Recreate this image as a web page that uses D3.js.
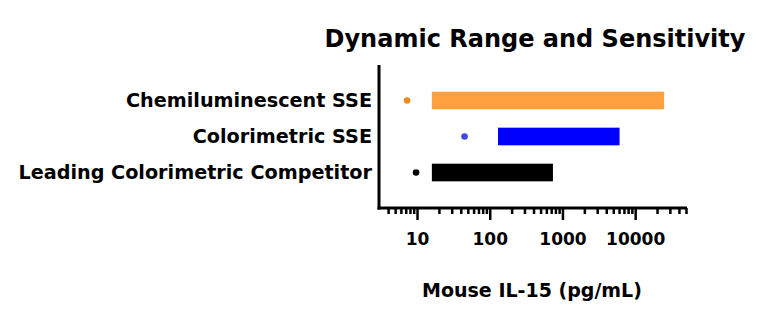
<!DOCTYPE html>
<html>
<head>
<meta charset="utf-8">
<script src="https://cdn.jsdelivr.net/npm/d3@7"></script>
<style>
  body { margin: 0; background: #fff; }
  text { font-family: "DejaVu Sans", sans-serif; font-weight: bold; fill: #000; }
</style>
</head>
<body>
<script>
// data
const categories = ['Chemiluminescent SSE', 'Colorimetric SSE', 'Leading Colorimetric Competitor']
const sensitivity = [7.3, 45, 9.7]
const rangeLow = [16, 130, 16]
const rangeHigh = [25000, 6100, 740]
const barColors = ['#ffa040', '#0000ff', '#000000']
const dotColors = ['#f28a1e', '#4444ee', '#000000']
const majorTicks = [10, 100, 1000, 10000]

const w = 768
const h = 322

const svg = d3.select('body')
    .append('svg')
    .attr('width', w)
    .attr('height', h)

// scales
const x = d3.scaleLog()
    .domain([3, 50000])
    .range([379, 686])

const y = d3.scaleBand()
    .domain(categories)
    .range([65, 208])
    .paddingInner(0.51)
    .paddingOuter(0.74)

// minor ticks: 2..9 of every decade inside the domain
const minorTicks = x.ticks().filter(d => majorTicks.indexOf(d) < 0 && d >= 4)

const baseY = 208

// bars for the dynamic range
svg.selectAll('rect.range')
    .data(categories)
    .enter()
    .append('rect')
    .attr('class', 'range')
    .attr('x', (d, i) => x(rangeLow[i]))
    .attr('width', (d, i) => x(rangeHigh[i]) - x(rangeLow[i]))
    .attr('y', d => y(d))
    .attr('height', y.bandwidth())
    .style('fill', (d, i) => barColors[i])

// dots for the sensitivity
svg.selectAll('circle.sens')
    .data(categories)
    .enter()
    .append('circle')
    .attr('class', 'sens')
    .attr('cx', (d, i) => x(sensitivity[i]))
    .attr('cy', d => y(d) + y.bandwidth() / 2)
    .attr('r', 3.3)
    .style('fill', (d, i) => dotColors[i])

// x axis: minor ticks first, then major ticks with labels
const xAxisMinor = svg.append('g')
    .attr('transform', `translate(0,${baseY})`)
    .call(d3.axisBottom(x).tickValues(minorTicks).tickSize(6).tickFormat(''))
const xAxis = svg.append('g')
    .attr('transform', `translate(0,${baseY})`)
    .call(d3.axisBottom(x).tickValues(majorTicks).tickSize(12).tickPadding(13).tickFormat(d3.format('d')))

;[xAxisMinor, xAxis].forEach(g => {
    g.select('.domain').remove()
    g.selectAll('line').style('stroke', '#000').style('stroke-width', 2.5)
})
xAxis.selectAll('text').style('font-size', '17px')

svg.append('line')
    .attr('x1', 377.5).attr('x2', 687)
    .attr('y1', baseY).attr('y2', baseY)
    .style('stroke', '#000').style('stroke-width', 3)

// y axis
const yAxis = svg.append('g')
    .attr('transform', 'translate(379,0)')
    .call(d3.axisLeft(y).tickSize(0).tickPadding(7))
yAxis.select('.domain').remove()
yAxis.selectAll('text').style('font-size', '19.2px')

svg.append('line')
    .attr('x1', 379).attr('x2', 379)
    .attr('y1', 65).attr('y2', baseY + 1.5)
    .style('stroke', '#000').style('stroke-width', 3)

// titles
svg.append('text')
    .attr('x', 535)
    .attr('y', 47)
    .attr('text-anchor', 'middle')
    .style('font-size', '24px')
    .text('Dynamic Range and Sensitivity')

svg.append('text')
    .attr('x', 532)
    .attr('y', 297)
    .attr('text-anchor', 'middle')
    .style('font-size', '19px')
    .text('Mouse IL-15 (pg/mL)')
</script>
</body>
</html>
